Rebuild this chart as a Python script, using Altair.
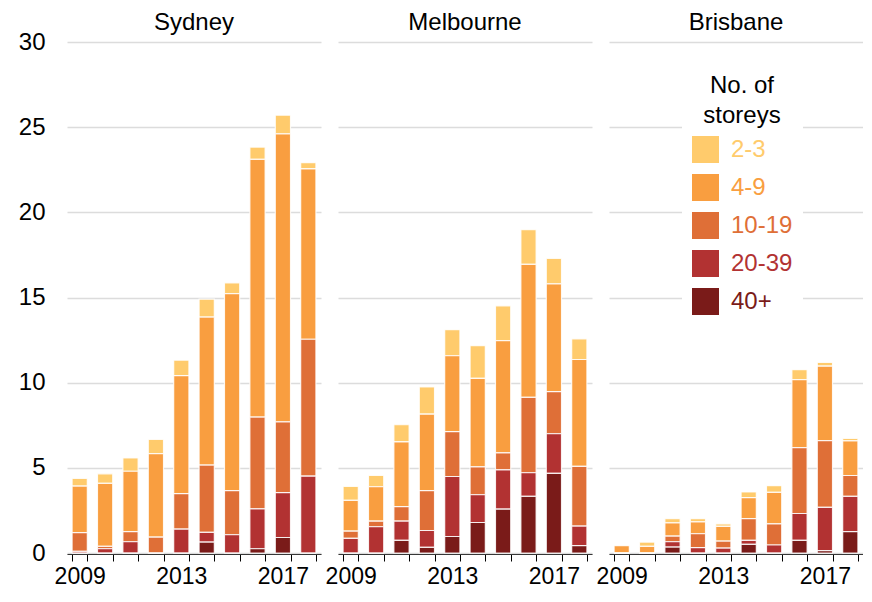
import altair as alt
import pandas as pd

cities = ["Sydney", "Melbourne", "Brisbane"]
years = [str(y) for y in range(2009, 2019)]
storeys = ["2-3", "4-9", "10-19", "20-39", "40+"]
colors = ["#FFCB6C", "#F99E40", "#DF6F37", "#B23232", "#7A1B19"]

sydney = {
    "40+":   [0, 0, 0, 0, 0, 0.64, 0, 0.25, 0.91, 0],
    "20-39": [0.1, 0.25, 0.66, 0, 1.4, 0.57, 1.07, 2.34, 2.63, 4.51],
    "10-19": [1.1, 0.14, 0.6, 0.93, 2.08, 3.95, 2.59, 5.39, 4.16, 8.04],
    "4-9":   [2.73, 3.7, 3.54, 4.91, 6.93, 8.69, 11.57, 15.13, 16.91, 10.0],
    "2-3":   [0.45, 0.56, 0.78, 0.83, 0.91, 1.05, 0.63, 0.72, 1.09, 0.37],
}
melbourne = {
    "40+":   [0, 0, 0.74, 0.33, 0.97, 1.79, 2.57, 3.33, 4.67, 0.43],
    "20-39": [0.86, 1.54, 1.13, 0.99, 3.52, 1.63, 2.31, 1.38, 2.33, 1.15],
    "10-19": [0.42, 0.33, 0.85, 2.34, 2.63, 1.64, 1.0, 4.43, 2.47, 3.5],
    "4-9":   [1.81, 2.02, 3.8, 4.49, 4.46, 5.19, 6.59, 7.81, 6.33, 6.28],
    "2-3":   [0.82, 0.66, 1.01, 1.6, 1.53, 1.93, 2.04, 2.04, 1.5, 1.21],
}
brisbane = {
    "40+":   [0, 0, 0.35, 0, 0, 0.51, 0, 0.74, 0.14, 1.26],
    "20-39": [0, 0, 0.31, 0.31, 0.29, 0.23, 0.47, 1.58, 2.54, 2.07],
    "10-19": [0, 0, 0.33, 0.82, 0.41, 1.28, 1.24, 3.87, 3.92, 1.22],
    "4-9":   [0.43, 0.39, 0.78, 0.7, 0.86, 1.23, 1.85, 3.99, 4.37, 2.03],
    "2-3":   [0, 0.25, 0.25, 0.19, 0.15, 0.33, 0.39, 0.58, 0.22, 0.15],
}
city_data = {"Sydney": sydney, "Melbourne": melbourne, "Brisbane": brisbane}

rows = []
for city in cities:
    for s in storeys:
        for i, y in enumerate(years):
            rows.append({
                "city": city,
                "year": y,
                "storeys": s,
                "value": city_data[city][s][i],
                "rank": 4 - storeys.index(s),
            })
df = pd.DataFrame(rows)

FONT = "Liberation Sans"
FS = 24

chart = alt.Chart(df).mark_bar(
    stroke="white", strokeWidth=1.2, strokeOpacity=0.85
).encode(
    x=alt.X(
        "year:O",
        title=None,
        scale=alt.Scale(paddingInner=0.4, paddingOuter=0.2),
        axis=alt.Axis(
            labelAngle=0,
            tickBand="extent",
            tickSize=7,
            tickColor="black",
            domainColor="black",
            labelFontSize=23,
            labelPadding=4,
            labelColor="black",
            labelExpr="indexof(['2009','2013','2017'], datum.label) >= 0 ? datum.label : ''",
        ),
    ),
    y=alt.Y(
        "value:Q",
        stack="zero",
        title=None,
        scale=alt.Scale(domain=[0, 30]),
        axis=alt.Axis(
            values=[0, 5, 10, 15, 20, 25, 30],
            domain=False,
            ticks=False,
            labelFontSize=FS,
            labelColor="black",
            labelPadding=22,
            gridColor="#dcdcdc",
            gridWidth=1.5,
        ),
    ),
    color=alt.Color(
        "storeys:N",
        scale=alt.Scale(domain=storeys, range=colors),
        legend=alt.Legend(
            title=["No. of", "storeys"],
            orient="none",
            legendX=615,
            legendY=22,
            symbolType="square",
            symbolSize=729,
            symbolStrokeWidth=0,
            symbolOpacity=1,
            labelFontSize=FS,
            labelOffset=12,
            labelColor={"expr": "scale('color', datum.value)"},
            rowPadding=11,
            titleFontSize=FS,
            titleFontWeight="normal",
            titleColor="black",
            titleAlign="center",
            titleAnchor="middle",
            titleLineHeight=30,
            titlePadding=8,
            fillColor="white",
            padding=10,
        ),
    ),
    order=alt.Order("rank:Q", sort="ascending"),
).properties(
    width=254, height=511
).facet(
    column=alt.Column(
        "city:N",
        sort=cities,
        title=None,
        header=alt.Header(labelFontSize=FS, labelColor="black", labelFont=FONT, labelPadding=7),
    ),
    spacing=17,
).configure(
    font=FONT,
    padding={"left": 10, "top": 3, "right": 0, "bottom": 0},
).configure_view(
    stroke=None
).configure_axisX(
    grid=False
)

chart.save("out.html", embed_options={"renderer": "svg", "actions": False})
